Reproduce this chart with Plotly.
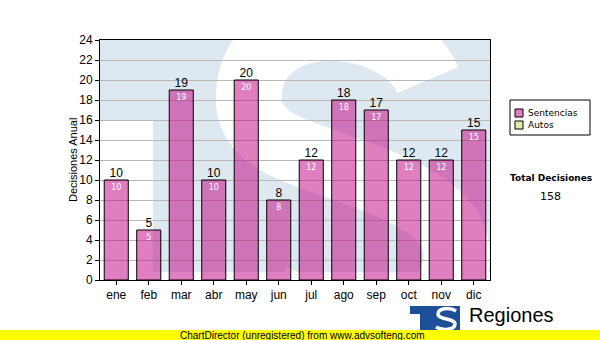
import plotly.graph_objects as go

months = ["ene", "feb", "mar", "abr", "may", "jun", "jul", "ago", "sep", "oct", "nov", "dic"]
sentencias = [10, 5, 19, 10, 20, 8, 12, 18, 17, 12, 12, 15]
series_names = ["Sentencias", "Autos"]
series_colors = ["#e080c0", "#dcefa8"]
y_ticks = list(range(0, 25, 2))
total = sum(sentencias)

FONT = "Liberation Sans, Arial, sans-serif"
TFONT = "DejaVu Sans, Verdana, Tahoma, sans-serif"

# plot area geometry (pixels) used only to place decorations
L, R, T, B = 100, 490, 40, 280
W, H = R - L, B - T


def px(x):
    return (x - L) / W


def py(y):
    return (B - y) / H


def path(cmds):
    out = []
    for c in cmds:
        if isinstance(c, str):
            out.append(c)
        else:
            out.append(f"{px(c[0]):.4f},{py(c[1]):.4f}")
    return " ".join(out)


fig = go.Figure()
fig.add_trace(go.Bar(
    x=months, y=sentencias, name=series_names[0],
    marker=dict(color="rgba(192,0,128,0.5)", line=dict(color="black", width=1)),
    width=0.74,
    text=[str(v) for v in sentencias], textposition="inside",
    insidetextanchor="end", textangle=0, constraintext="none",
    textfont=dict(family=TFONT, size=8, color="white"),
    hoverinfo="x+y",
))
fig.add_trace(go.Scatter(
    x=months, y=sentencias, mode="text",
    text=[str(v) for v in sentencias], textposition="top center",
    textfont=dict(family=FONT, size=12, color="black"),
    hoverinfo="skip", showlegend=False,
))

WM = "#dee8f1"
shapes = [
    # watermark: blue block
    dict(type="rect", xref="paper", yref="paper", x0=0, x1=1, y0=py(272), y1=1,
         fillcolor=WM, line=dict(width=0), layer="below"),
    # white gap under T bar
    dict(type="rect", xref="paper", yref="paper", x0=0, x1=px(153), y0=py(272), y1=py(120),
         fillcolor="white", line=dict(width=0), layer="below"),
    # white S stroke
    dict(type="path", xref="paper", yref="paper", layer="below",
         path=path(["M", (428, 80), "C", (400, 15), (262, 5), (250, 85),
                    "C", (240, 145), (300, 150), (370, 178),
                    "C", (455, 210), (472, 245), (445, 292),
                    "C", (415, 335), (320, 325), (270, 295)]),
         line=dict(color="white", width=66), fillcolor="rgba(0,0,0,0)"),
]

# legend box (manual)
shapes.append(dict(type="rect", xref="paper", yref="paper", x0=px(510), x1=px(590),
                   y0=py(135), y1=py(100), line=dict(color="black", width=1),
                   fillcolor="white"))
ann = []
for i, (nm, col) in enumerate(zip(series_names, series_colors)):
    yc = 113 + 12 * i
    shapes.append(dict(type="rect", xref="paper", yref="paper",
                       x0=px(515), x1=px(523), y0=py(yc + 4), y1=py(yc - 4),
                       fillcolor=col, line=dict(color="black", width=1)))
    ann.append(dict(text=nm, xref="paper", yref="paper", x=px(526), y=py(yc),
                    xanchor="left", yanchor="middle", showarrow=False,
                    font=dict(family=TFONT, size=9, color="black")))

# logo at bottom
LOGO = "#1d4f99"
shapes += [
    dict(type="rect", xref="paper", yref="paper", x0=px(410), x1=px(460), y0=py(330), y1=py(306),
         fillcolor=LOGO, line=dict(width=0)),
    dict(type="rect", xref="paper", yref="paper", x0=px(410), x1=px(420), y0=py(330), y1=py(314),
         fillcolor="white", line=dict(width=0)),
    dict(type="path", xref="paper", yref="paper",
         path=path(["M", (456, 311), "C", (450, 307), (438, 308), (438, 314),
                    "C", (438, 320), (455, 318), (455, 324),
                    "C", (455, 330), (442, 331), (436, 327)]),
         line=dict(color="white", width=3.5), fillcolor="rgba(0,0,0,0)"),
    # yellow band
    dict(type="rect", xref="paper", yref="paper", x0=px(0), x1=px(600), y0=py(340), y1=py(330),
         fillcolor="#ffff00", line=dict(width=0)),
]

ann += [
    dict(text="Decisiones Anual", xref="paper", yref="paper", x=px(73), y=py(160),
         textangle=-90, showarrow=False, xanchor="center", yanchor="middle",
         font=dict(family=FONT, size=11, color="black")),
    dict(text="<b>Total Decisiones</b>", xref="paper", yref="paper", x=px(551), y=py(178),
         showarrow=False, xanchor="center", yanchor="middle",
         font=dict(family=TFONT, size=9, color="black")),
    dict(text=str(total), xref="paper", yref="paper", x=px(550), y=py(196),
         showarrow=False, xanchor="center", yanchor="middle",
         font=dict(family=TFONT, size=11, color="black")),
    dict(text="Regiones", xref="paper", yref="paper", x=px(467), y=py(315),
         showarrow=False, xanchor="left", yanchor="middle",
         font=dict(family=FONT, size=20, color="black")),
    dict(text="ChartDirector (unregistered) from www.advsofteng.com", xref="paper", yref="paper",
         x=px(302), y=py(335), showarrow=False, xanchor="center", yanchor="middle",
         font=dict(family=FONT, size=10, color="black")),
]

fig.update_layout(
    width=600, height=340,
    margin=dict(l=L, r=600 - R, t=T, b=340 - B, autoexpand=False),
    paper_bgcolor="white", plot_bgcolor="white",
    showlegend=False, barmode="overlay",
    shapes=shapes, annotations=ann,
    font=dict(family=FONT, size=12, color="black"),
)
fig.update_xaxes(
    range=[-0.5, len(months) - 0.5],
    showline=True, linecolor="black", linewidth=1, mirror=True,
    ticks="outside", ticklen=4, tickcolor="black",
    tickfont=dict(family=FONT, size=12, color="black"),
    showgrid=False, automargin=False,
)
fig.update_yaxes(
    range=[0, 24], tickvals=y_ticks, ticktext=[str(v) for v in y_ticks],
    showline=True, linecolor="black", linewidth=1, mirror=True,
    ticks="outside", ticklen=4, tickcolor="black",
    tickfont=dict(family=FONT, size=12, color="black"),
    showgrid=True, gridcolor="#b8b8b8", gridwidth=1, zeroline=False, automargin=False,
)

fig.write_html("out.html", config={"displayModeBar": False})

# remove the browser's default page margin so the 600x340 figure fills the window
with open("out.html", encoding="utf-8") as f:
    html = f.read()
html = html.replace("<head>", "<head><style>html,body{margin:0;padding:0;overflow:hidden}</style>", 1)
with open("out.html", "w", encoding="utf-8") as f:
    f.write(html)
